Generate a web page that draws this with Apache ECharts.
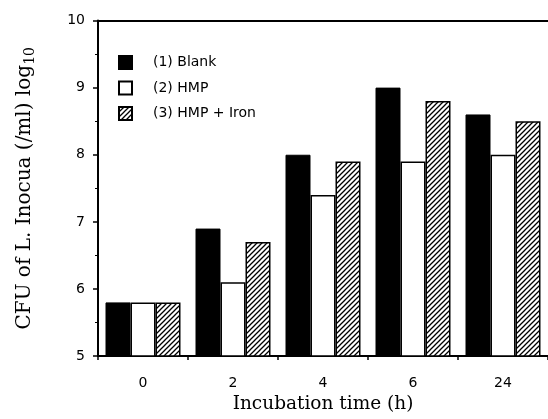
<!DOCTYPE html>
<html>
<head>
<meta charset="utf-8">
<script src="https://cdn.jsdelivr.net/npm/echarts@6/dist/echarts.min.js"></script>
<style>html,body{margin:0;padding:0;background:#fff}#c{width:548px;height:419px}</style>
</head>
<body>
<div id="c"></div>
<script>
var categories = ['0', '2', '4', '6', '24'];
var blank = [5.8, 6.9, 8.0, 9.0, 8.6];
var hmp = [5.8, 6.1, 7.4, 7.9, 8.0];
var hmpIron = [5.8, 6.7, 7.9, 8.8, 8.5];
var seriesNames = ['(1) Blank', '(2) HMP', '(3) HMP + Iron'];

function hatch() {
  var s = 5;
  var cv = document.createElement('canvas');
  cv.width = s; cv.height = s;
  var ctx = cv.getContext('2d');
  ctx.fillStyle = '#fff';
  ctx.fillRect(0, 0, s, s);
  ctx.strokeStyle = '#000';
  ctx.lineWidth = 1.3;
  ctx.beginPath();
  ctx.moveTo(-1, s + 1); ctx.lineTo(s + 1, -1);
  ctx.moveTo(-1, 1); ctx.lineTo(1, -1);
  ctx.moveTo(s - 1, s + 1); ctx.lineTo(s + 1, s - 1);
  ctx.stroke();
  return cv;
}

var chart = echarts.init(document.getElementById('c'), null, {renderer: 'canvas'});
var sans = 'DejaVu Sans';
var serif = 'DejaVu Serif';
var base = {
  type: 'bar', barWidth: 25, barGap: '0%',
  xAxisIndex: 0, yAxisIndex: 0
};
chart.setOption({
  animation: false,
  backgroundColor: '#fff',
  grid: {left: 98, top: 20.5, width: 461, height: 336.5},
  legend: {
    orient: 'vertical', left: 118, top: 55, padding: 0,
    itemWidth: 13, itemHeight: 13, itemGap: 10.5,
    icon: 'rect',
    textStyle: {fontFamily: sans, fontSize: 14, lineHeight: 14, color: '#000', padding: [0, 0, 0, 16]},
    data: seriesNames
  },
  xAxis: [{
    type: 'category', data: categories, position: 'bottom',
    axisLine: {lineStyle: {color: '#000', width: 2}},
    axisTick: {show: true, length: 4, lineStyle: {color: '#000', width: 1.5}},
    axisLabel: {fontFamily: sans, fontSize: 14, color: '#000', margin: 20},
    name: 'Incubation time (h)', nameLocation: 'middle', nameGap: 38,
    nameTextStyle: {fontFamily: serif, fontSize: 18.5, color: '#000'}
  }, {
    type: 'category', data: categories, position: 'top',
    axisLine: {lineStyle: {color: '#000', width: 2}},
    axisTick: {show: false}, axisLabel: {show: false}
  }],
  yAxis: {
    type: 'value', min: 5, max: 10, interval: 1,
    axisLine: {show: true, lineStyle: {color: '#000', width: 2}},
    axisTick: {show: true, inside: false, length: 5, lineStyle: {color: '#000', width: 1.5}},
    minorTick: {show: true, splitNumber: 2, length: 3, lineStyle: {color: '#000', width: 1}},
    splitLine: {show: false},
    axisLabel: {fontFamily: sans, fontSize: 14, color: '#000', margin: 13},
    name: 'CFU of L. Inocua (/ml) log{sub|10}',
    nameLocation: 'middle', nameGap: 61, nameRotate: 90,
    nameTextStyle: {
      fontFamily: serif, fontSize: 20, color: '#000',
      rich: {sub: {fontFamily: serif, fontSize: 14, color: '#000', verticalAlign: 'bottom', padding: [10, 0, 0, 0]}}
    }
  },
  series: [
    Object.assign({}, base, {name: seriesNames[0], data: blank,
      itemStyle: {color: '#000', borderColor: '#000', borderWidth: 1}}),
    Object.assign({}, base, {name: seriesNames[1], data: hmp,
      itemStyle: {color: '#fff', borderColor: '#000', borderWidth: 1.5}}),
    Object.assign({}, base, {name: seriesNames[2], data: hmpIron,
      itemStyle: {color: {image: hatch(), repeat: 'repeat'}, borderColor: '#000', borderWidth: 1.5}})
  ]
});
</script>
</body>
</html>
